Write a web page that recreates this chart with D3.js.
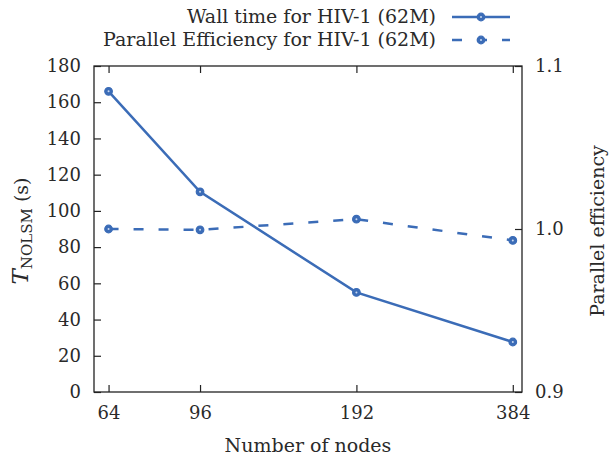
<!DOCTYPE html>
<html><head><meta charset="utf-8">
<script src="https://cdn.jsdelivr.net/npm/d3@7"></script>
<style>body{margin:0;background:#fff}svg{display:block}</style>
</head><body><svg id="c" width="610" height="459"></svg>
<script>
const nodes = [64, 96, 192, 384];
const wallTime = [166, 110.5, 55, 27.6];
const efficiency = [1.0, 0.9995, 1.006, 0.993];
const leftTicks = [0, 20, 40, 60, 80, 100, 120, 140, 160, 180];
const rightTicks = [0.9, 1.0, 1.1];
const seriesNames = ["Wall time for HIV-1 (62M)", "Parallel Efficiency for HIV-1 (62M)"];

const FONT = "'DejaVu Serif', 'Times New Roman', Times, serif";
const svg = d3.select("#c").style("font-family", FONT);
const L = 94, R = 522, T = 66, B = 392;
const color = "#3b6cb7";
const ink = "#2a2a2a";
const fs = 18;

const x = d3.scaleLog().base(2).domain([60, 400]).range([L, R]);
const yL = d3.scaleLinear().domain([0, 180]).range([B, T]);
const yR = d3.scaleLinear().domain([0.9, 1.1]).range([B, T]);

svg.append("rect").attr("x", L).attr("y", T).attr("width", R - L).attr("height", B - T)
  .attr("fill", "none").attr("stroke", "#222").attr("stroke-width", 1.3);

const gl = svg.append("g").attr("transform", `translate(${L},0)`)
  .call(d3.axisLeft(yL).tickValues(leftTicks).tickSize(-7).tickPadding(13).tickFormat(d3.format("d")));
const gr = svg.append("g").attr("transform", `translate(${R},0)`)
  .call(d3.axisRight(yR).tickValues(rightTicks).tickSize(-7).tickPadding(13).tickFormat(d3.format(".1f")));
const gb = svg.append("g").attr("transform", `translate(0,${B})`)
  .call(d3.axisBottom(x).tickValues(nodes).tickSize(-7).tickPadding(14).tickFormat(d3.format("d")));
const gt = svg.append("g").attr("transform", `translate(0,${T})`)
  .call(d3.axisTop(x).tickValues(nodes).tickSize(-7).tickFormat(""));
[gl, gr, gb, gt].forEach(g => {
  g.attr("font-family", FONT).attr("font-size", fs);
  g.select(".domain").remove();
  g.selectAll("line").attr("stroke", "#222").attr("stroke-width", 1.2);
  g.selectAll("text").style("font-family", FONT).attr("font-size", fs).attr("fill", ink);
});

const lineW = d3.line().x((d, i) => x(nodes[i])).y(d => yL(d));
const lineE = d3.line().x((d, i) => x(nodes[i])).y(d => yR(d));
svg.append("path").datum(wallTime).attr("d", lineW).attr("fill", "none")
  .attr("stroke", color).attr("stroke-width", 2.5);
svg.append("path").datum(efficiency).attr("d", lineE).attr("fill", "none")
  .attr("stroke", color).attr("stroke-width", 2.5).attr("stroke-dasharray", "10,15");

function marker(g, cx, cy) {
  g.append("circle").attr("cx", cx).attr("cy", cy).attr("r", 3.8)
    .attr("fill", color).attr("stroke", color).attr("stroke-width", 1.2);
  g.append("circle").attr("cx", cx).attr("cy", cy).attr("r", 1)
    .attr("fill", "#c9d8f0");
}
const mg = svg.append("g");
wallTime.forEach((d, i) => marker(mg, x(nodes[i]), yL(d)));
efficiency.forEach((d, i) => marker(mg, x(nodes[i]), yR(d)));

const lg = svg.append("g");
[0, 1].forEach(i => {
  const cy = 17 + i * 23;
  lg.append("text").attr("x", 436).attr("y", cy + 6).attr("text-anchor", "end")
    .style("font-family", FONT).attr("font-size", fs + 1).attr("fill", ink).text(seriesNames[i]);
  lg.append("line").attr("x1", 452).attr("x2", 510).attr("y1", cy).attr("y2", cy)
    .attr("stroke", color).attr("stroke-width", 2.5)
    .attr("stroke-dasharray", i === 1 ? "10,15" : null);
  marker(lg, 481, cy);
});

const yt = svg.append("text").attr("transform", `translate(28,${(T + B) / 2 + 2}) rotate(-90)`)
  .attr("text-anchor", "middle").attr("font-size", fs + 1).style("font-family", FONT).attr("fill", ink);
yt.append("tspan").attr("font-style", "italic").attr("font-size", fs + 5).text("T");
yt.append("tspan").attr("font-size", fs - 3).attr("dy", 4).text("NOLSM");
yt.append("tspan").attr("dy", -4).text(" (s)");

svg.append("text").attr("transform", `translate(604,${(T + B) / 2 + 2}) rotate(-90)`)
  .attr("text-anchor", "middle").attr("font-size", fs + 1).style("font-family", FONT).attr("fill", ink).text("Parallel efficiency");

svg.append("text").attr("x", (L + R) / 2).attr("y", 452).attr("text-anchor", "middle")
  .attr("font-size", fs + 1).style("font-family", FONT).attr("fill", ink).text("Number of nodes");
</script></body></html>
